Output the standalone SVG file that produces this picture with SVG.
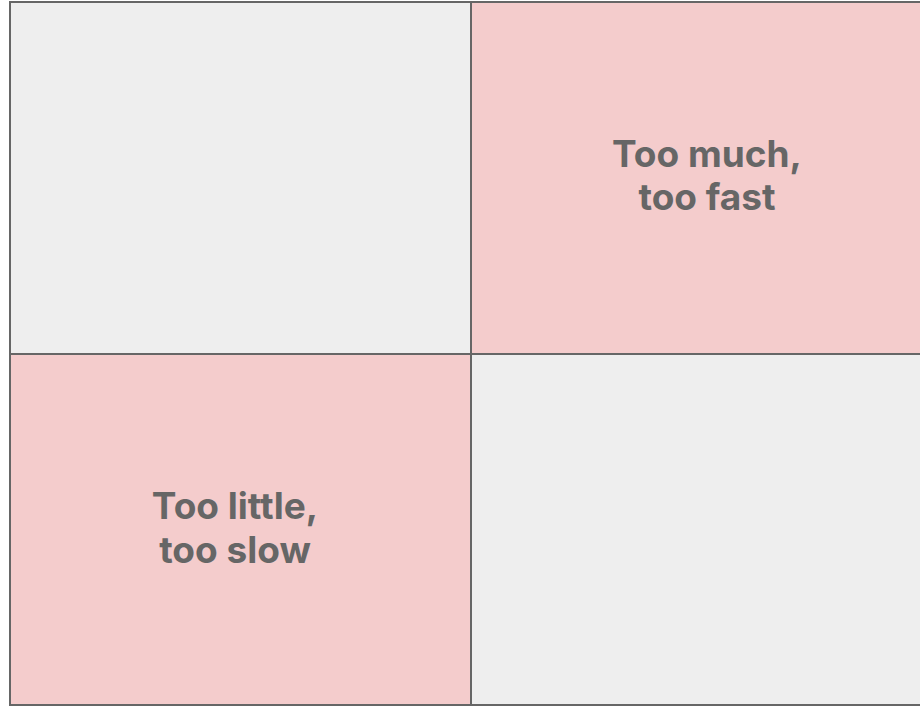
<svg xmlns="http://www.w3.org/2000/svg" width="920" height="706" viewBox="0 0 920 706">
<style>
.grey{fill:#eeeeee;stroke:#666666;stroke-width:2}
.pink{fill:#f4cccc;stroke:#666666;stroke-width:2}
.lbl{font-family:Inter,"Liberation Sans",sans-serif;font-weight:700;font-size:37px;fill:#666666;text-anchor:middle}
</style>
<g id="cell-tl"><rect class="grey" x="10" y="2" width="461" height="352"/></g>
<g id="cell-tr"><rect class="pink" x="471" y="2" width="460" height="352"/>
<text class="lbl" x="707" y="167">Too much,</text>
<text class="lbl" x="707" y="210">too fast</text></g>
<g id="cell-bl"><rect class="pink" x="10" y="354" width="461" height="351"/>
<text class="lbl" x="235" y="519">Too little,</text>
<text class="lbl" x="235" y="563">too slow</text></g>
<g id="cell-br"><rect class="grey" x="471" y="354" width="460" height="351"/></g>
<g id="connectors"></g>
</svg>
